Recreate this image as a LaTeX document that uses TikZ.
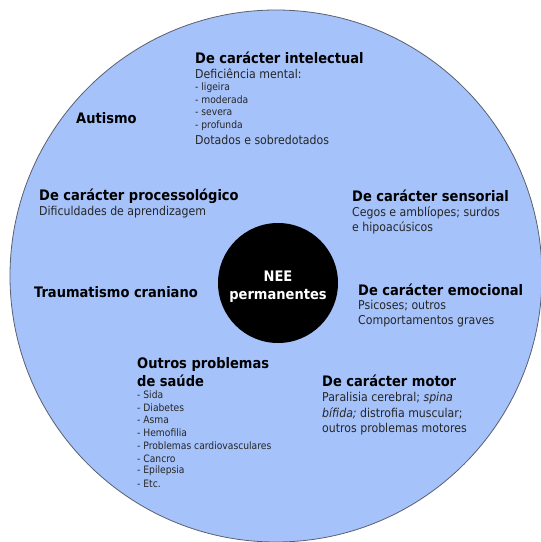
\documentclass[tikz,border=0pt]{standalone}
\usepackage{fontspec}
\setmainfont{DejaVu Sans Condensed}[BoldFont={DejaVu Sans Condensed Bold},ItalicFont={DejaVu Sans Condensed Oblique}]
\definecolor{discfill}{RGB}{165,194,250}
\definecolor{discline}{RGB}{90,96,110}
\begin{document}
\begin{tikzpicture}[x=1pt,y=-1pt,
  ttl/.style={anchor=west,inner sep=0pt,font=\fontsize{14.5}{16}\selectfont\bfseries,text=black},
  txt/.style={anchor=west,inner sep=0pt,font=\fontsize{12.2}{14}\selectfont,text=black!85},
  sml/.style={anchor=west,inner sep=0pt,font=\fontsize{10.2}{12}\selectfont,text=black!85},
  ctr/.style={inner sep=0pt,font=\fontsize{14.5}{16}\selectfont\bfseries,text=white}]
\useasboundingbox (0,0) rectangle (541,542);
\begin{scope}
\clip (0,0) rectangle (541,542);
\node[circle,draw=discline,line width=0.8pt,fill=discfill,minimum size=532pt,inner sep=0pt] (outer) at (276,276) {};
\end{scope}
\node[circle,fill=black,minimum size=120pt,inner sep=0pt] (core) at (278,283) {};
\node[ctr] (nee) at (278,276) {NEE};
\node[ctr] (perm) at (278,296) {permanentes};
% intelectual
\node[ttl] (int) at (195,58) {De carácter intelectual};
\node[txt] (int1) at (195,74) {Deficiência mental:};
\node[sml] (int2) at (195,88) {- ligeira};
\node[sml] (int3) at (195,100) {- moderada};
\node[sml] (int4) at (195,113) {- severa};
\node[sml] (int5) at (195,126) {- profunda};
\node[txt] (int6) at (195,140) {Dotados e sobredotados};
% autismo
\node[ttl] (aut) at (76,118) {Autismo};
% processologico
\node[ttl] (pro) at (39,196) {De carácter processológico};
\node[txt] (pro1) at (39,212) {Dificuldades de aprendizagem};
% sensorial
\node[ttl] (sen) at (352,196) {De carácter sensorial};
\node[txt] (sen1) at (352,213) {Cegos e amblíopes; surdos};
\node[txt] (sen2) at (352,228) {e hipoacúsicos};
% traumatismo
\node[ttl] (tra) at (34,292) {Traumatismo craniano};
% emocional
\node[ttl] (emo) at (358,290) {De carácter emocional};
\node[txt] (emo1) at (358,306) {Psicoses; outros};
\node[txt] (emo2) at (358,321) {Comportamentos graves};
% outros
\node[ttl] (out) at (137,364) {Outros problemas};
\node[ttl] (out0) at (137,381) {de saúde};
\node[sml] (out1) at (137,395) {- Sida};
\node[sml] (out2) at (137,408) {- Diabetes};
\node[sml] (out3) at (137,420) {- Asma};
\node[sml] (out4) at (137,433) {- Hemofilia};
\node[sml] (out5) at (137,446) {- Problemas cardiovasculares};
\node[sml] (out6) at (137,459) {- Cancro};
\node[sml] (out7) at (137,471) {- Epilepsia};
\node[sml] (out8) at (137,484) {- Etc.};
% motor
\node[ttl] (mot) at (322,381) {De carácter motor};
\node[txt] (mot1) at (322,398) {Paralisia cerebral; \textit{spina}};
\node[txt] (mot2) at (322,413) {\textit{bífida;} distrofia muscular;};
\node[txt] (mot3) at (322,429) {outros problemas motores};
\end{tikzpicture}
\end{document}
